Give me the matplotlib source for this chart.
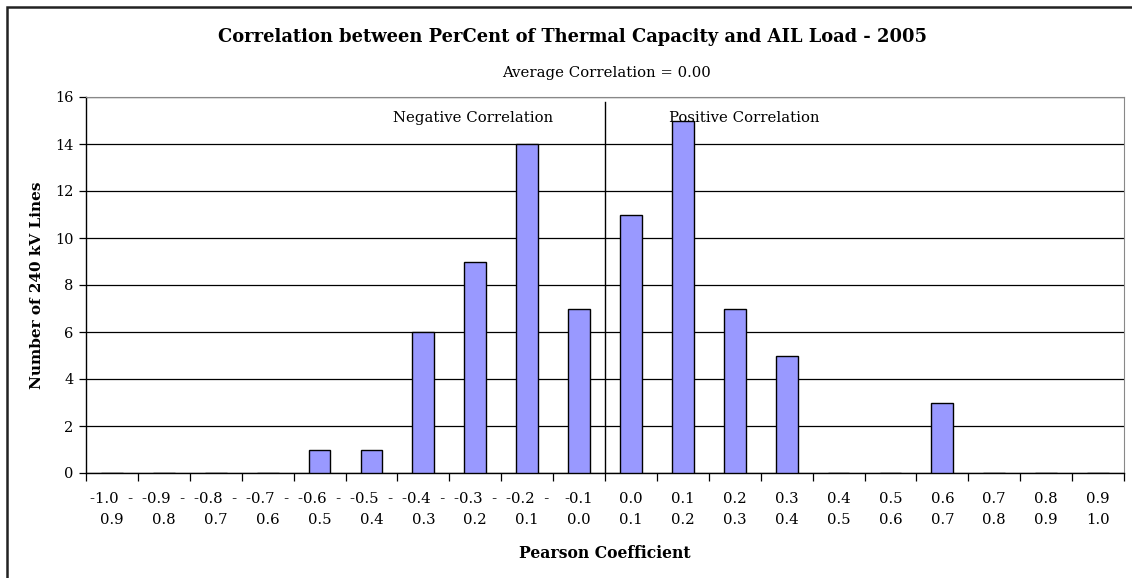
import numpy as np
import matplotlib
matplotlib.use("Agg")
import matplotlib.pyplot as plt
from matplotlib.patches import Rectangle

# pearson coefficient bins and number of 240 kV lines in each
bin_labels = [
    "-1.0  -\n0.9", "-0.9  -\n0.8", "-0.8  -\n0.7", "-0.7  -\n0.6",
    "-0.6  -\n0.5", "-0.5  -\n0.4", "-0.4  -\n0.3", "-0.3  -\n0.2",
    "-0.2  -\n0.1", "-0.1\n0.0", "0.0\n0.1", "0.1\n0.2",
    "0.2\n0.3", "0.3\n0.4", "0.4\n0.5", "0.5\n0.6",
    "0.6\n0.7", "0.7\n0.8", "0.8\n0.9", "0.9\n1.0",
]
line_counts = [0, 0, 0, 0, 1, 1, 6, 9, 14, 7, 11, 15, 7, 5, 0, 0, 3, 0, 0, 0]
avg_corr = 0.00

plt.rcParams['font.family'] = ['DejaVu Serif']

W, H = 1132, 578
fig = plt.figure(figsize=(W / 100, H / 100), dpi=100)
# plot area: x 86..1124 px, y 97..473 px
ax = fig.add_axes([86 / W, 1 - 473 / H, (1124 - 86) / W, (473 - 97) / H])

x = np.arange(len(line_counts))
ax.bar(x, line_counts, width=0.42, color='#9999FF', edgecolor='black',
       linewidth=1.0, zorder=3)

ax.set_xlim(-0.5, len(line_counts) - 0.5)
ax.set_ylim(0, 16)
ax.set_yticks(np.arange(0, 17, 2))
ax.yaxis.grid(True, color='black', linewidth=0.9, zorder=0)
ax.set_axisbelow(True)

# labels sit under the bars, tick marks between the bins
ax.set_xticks(x)
ax.set_xticklabels(bin_labels, fontsize=10.75, linespacing=1.6)
ax.tick_params(axis='x', which='major', length=0, pad=14)
ax.set_xticks(np.arange(-0.5, len(line_counts), 1.0), minor=True)
ax.tick_params(axis='x', which='minor', length=6, direction='out', width=0.9)
ax.tick_params(axis='y', length=5, direction='out', width=0.9, labelsize=10.5, pad=4)

for s in ['top', 'right']:
    ax.spines[s].set_color('#888888')
for s in ['left', 'bottom']:
    ax.spines[s].set_color('black')
    ax.spines[s].set_linewidth(1.0)

# split between negative and positive coefficients
ax.plot([9.5, 9.5], [0, 15.8], color='black', linewidth=1.0, zorder=4)
ax.text(6.96, 15.1, "Negative Correlation", ha='center', va='center', fontsize=10.75)
ax.text(12.19, 15.1, "Positive Correlation", ha='center', va='center', fontsize=10.75,
        zorder=2)

ax.set_xlabel("Pearson Coefficient", fontsize=11.25, fontweight='bold')
ax.xaxis.set_label_coords(0.5, (473 - 553) / (473 - 97))
ax.xaxis.label.set_va('center')
ax.set_ylabel("Number of 240 kV Lines", fontsize=11, fontweight='bold')
ax.yaxis.set_label_coords((37 - 86) / (1124 - 86), 0.5)
ax.yaxis.label.set_va('center')

fig.text(572 / W, 1 - 37 / H,
         "Correlation between PerCent of Thermal Capacity and AIL Load - 2005",
         ha='center', va='center', fontsize=12.9, fontweight='bold')
fig.text(606 / W, 1 - 73 / H, "Average Correlation = %.2f" % avg_corr,
         ha='center', va='center', fontsize=10.75)

# chart frame
fig.patches.append(Rectangle((7 / W, -0.1), 1.2, 1.1 - 7 / H,
                             transform=fig.transFigure, fill=False,
                             edgecolor='#222222', linewidth=1.8))

fig.savefig("out.png", dpi=100)
